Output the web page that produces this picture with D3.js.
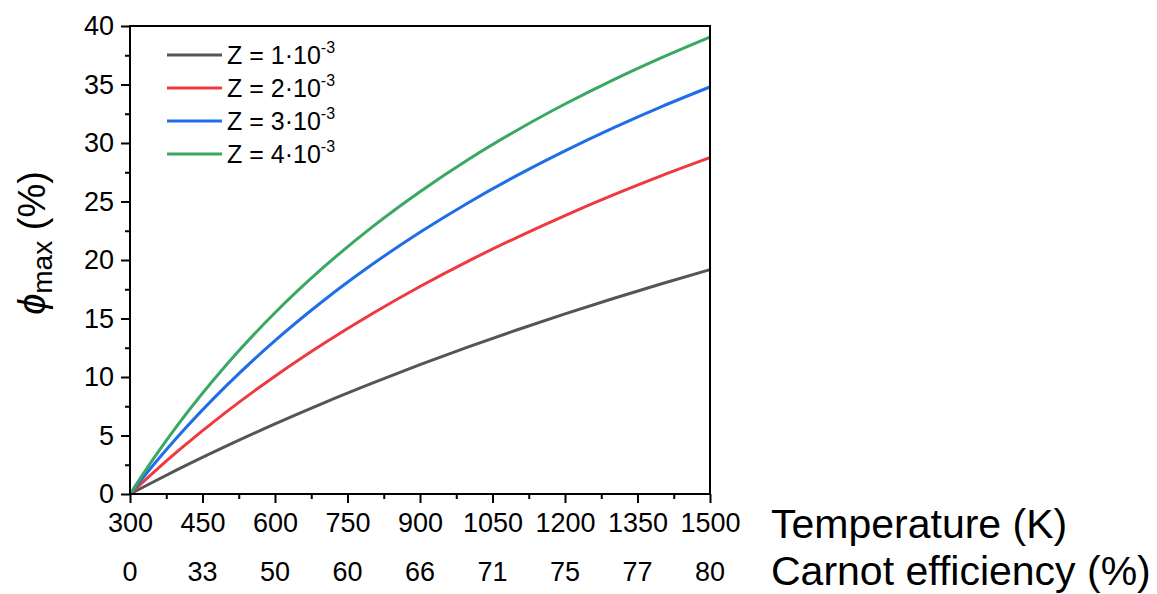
<!DOCTYPE html>
<html>
<head>
<meta charset="utf-8">
<script src="https://cdn.jsdelivr.net/npm/d3@7"></script>
<style>
  html, body { margin: 0; padding: 0; background: #fff; }
  svg { display: block; font-family: "Liberation Sans", Arial, sans-serif; }
</style>
</head>
<body>
<svg id="chart" width="1157" height="594"></svg>
<script>
// ---- data ----
const temperatures = [300, 350, 400, 500, 600, 700, 800, 900, 1000, 1100, 1200, 1300, 1400, 1500];
const phiZ1 = [0, 1.07, 2.12, 4.11, 5.99, 7.77, 9.45, 11.05, 12.57, 14.02, 15.40, 16.71, 17.97, 19.18];
const phiZ2 = [0, 1.90, 3.70, 7.04, 10.07, 12.84, 15.39, 17.74, 19.91, 21.92, 23.80, 25.56, 27.21, 28.75];
const phiZ3 = [0, 2.56, 4.95, 9.28, 13.11, 16.52, 19.59, 22.37, 24.90, 27.21, 29.33, 31.29, 33.11, 34.79];
const phiZ4 = [0, 3.11, 5.97, 11.07, 15.49, 19.36, 22.79, 25.84, 28.59, 31.07, 33.33, 35.40, 37.30, 39.06];
const seriesNames = ["1", "2", "3", "4"];
const seriesColors = ["#555555", "#ee3a3f", "#1f6ee8", "#38a862"];
const xTicks = [300, 450, 600, 750, 900, 1050, 1200, 1350, 1500];
const carnotLabels = ["0", "33", "50", "60", "66", "71", "75", "77", "80"];
const yTicks = [0, 5, 10, 15, 20, 25, 30, 35, 40];

const series = [phiZ1, phiZ2, phiZ3, phiZ4];

const svg = d3.select("#chart");
const pLeft = 130, pRight = 710, pTop = 26, pBottom = 494;

const x = d3.scaleLinear().domain([300, 1500]).range([pLeft, pRight]);
const y = d3.scaleLinear().domain([0, 40]).range([pBottom, pTop]);

// curves
const line = d3.line()
  .x((d, i) => x(temperatures[i]))
  .y(d => y(d))
  .curve(d3.curveMonotoneX);

svg.append("g").selectAll("path")
  .data(series)
  .join("path")
  .attr("d", d => line(d))
  .attr("fill", "none")
  .attr("stroke", (d, i) => seriesColors[i])
  .attr("stroke-width", 3);

// y axis (major ticks outward, minor ticks)
const yAxis = svg.append("g").attr("transform", `translate(${pLeft},0)`)
  .call(d3.axisLeft(y).tickValues(yTicks).tickSize(9).tickPadding(7).tickFormat(d3.format("d")));
yAxis.select(".domain").remove();
yAxis.selectAll(".tick line").attr("stroke", "#000").attr("stroke-width", 2);
yAxis.selectAll(".tick text").attr("font-size", 27).attr("fill", "#000")
  .attr("font-family", "Liberation Sans, Arial, sans-serif");

const yMinor = d3.range(2.5, 40, 5);
svg.append("g").attr("transform", `translate(${pLeft},0)`)
  .call(d3.axisLeft(y).tickValues(yMinor).tickSize(5).tickFormat(""))
  .call(g => g.select(".domain").remove())
  .selectAll(".tick line").attr("stroke", "#000").attr("stroke-width", 2);

// x axis
const xAxis = svg.append("g").attr("transform", `translate(0,${pBottom})`)
  .call(d3.axisBottom(x).tickValues(xTicks).tickSize(9).tickPadding(8).tickFormat(d3.format("d")));
xAxis.select(".domain").remove();
xAxis.selectAll(".tick line").attr("stroke", "#000").attr("stroke-width", 2);
xAxis.selectAll(".tick text").attr("font-size", 27).attr("fill", "#000")
  .attr("font-family", "Liberation Sans, Arial, sans-serif")
  .attr("y", 38).attr("dy", null);

const xMinor = d3.range(375, 1500, 150);
svg.append("g").attr("transform", `translate(0,${pBottom})`)
  .call(d3.axisBottom(x).tickValues(xMinor).tickSize(5).tickFormat(""))
  .call(g => g.select(".domain").remove())
  .selectAll(".tick line").attr("stroke", "#000").attr("stroke-width", 2);

// Carnot efficiency secondary labels
svg.append("g").selectAll("text")
  .data(xTicks)
  .join("text")
  .attr("x", d => x(d))
  .attr("y", 581)
  .attr("text-anchor", "middle")
  .attr("font-size", 27)
  .attr("fill", "#000")
  .text((d, i) => carnotLabels[i]);

// frame
svg.append("rect")
  .attr("x", pLeft).attr("y", pTop)
  .attr("width", pRight - pLeft).attr("height", pBottom - pTop)
  .attr("fill", "none").attr("stroke", "#000").attr("stroke-width", 2);

// axis titles
svg.append("text").attr("x", 771).attr("y", 538)
  .attr("font-size", 41).attr("fill", "#000").text("Temperature (K)");
svg.append("text").attr("x", 771).attr("y", 585)
  .attr("font-size", 41).attr("fill", "#000").text("Carnot efficiency (%)");

const yt = svg.append("text")
  .attr("transform", "translate(45,243) rotate(-90)")
  .attr("text-anchor", "middle")
  .attr("font-size", 38).attr("fill", "#000");
yt.append("tspan").attr("font-style", "italic").text("\u03D5");
yt.append("tspan").attr("font-size", 28).attr("dy", 7).text("max");
yt.append("tspan").attr("dy", -7).text(" (%)");

// legend
const legend = svg.append("g");
seriesNames.forEach((n, i) => {
  const ly = 55 + i * 33;
  legend.append("line")
    .attr("x1", 167).attr("x2", 222).attr("y1", ly).attr("y2", ly)
    .attr("stroke", seriesColors[i]).attr("stroke-width", 3);
  const t = legend.append("text").attr("x", 227).attr("y", ly + 8.5)
    .attr("font-size", 25).attr("fill", "#000");
  t.append("tspan").text(`Z = ${n}\u00B710`);
  t.append("tspan").attr("font-size", 16).attr("dy", -11).text("-3");
});
</script>
</body>
</html>
